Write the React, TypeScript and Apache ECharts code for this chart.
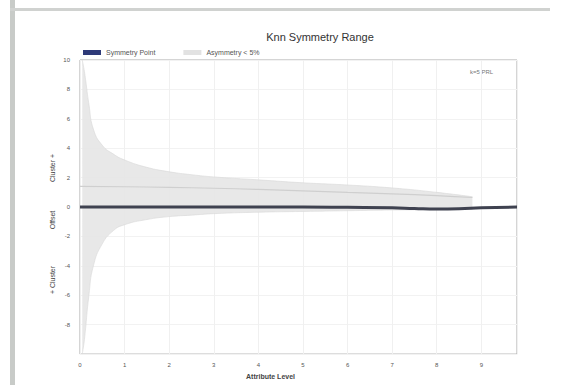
import React, { useEffect, useRef } from "react";
import * as echarts from "echarts";

const xTicks = [0, 1, 2, 3, 4, 5, 6, 7, 8, 9];
const yTicks = [10, 8, 6, 4, 2, 0, -2, -4, -6, -8];

const bandX = [0.05, 0.1, 0.2, 0.3, 0.5, 0.75, 1, 1.5, 2, 2.5, 3, 4, 5, 6, 7, 8, 8.8];
const bandUpper = [10, 9.2, 7.0, 5.3, 4.2, 3.6, 3.2, 2.7, 2.4, 2.2, 2.05, 1.85, 1.65, 1.5, 1.3, 1.0, 0.7];
const bandLower = [-10, -9.0, -6.0, -4.0, -2.5, -1.6, -1.2, -0.85, -0.65, -0.55, -0.45, -0.35, -0.3, -0.25, -0.2, -0.18, -0.15];

const midX = [0, 1, 2, 3, 4, 5, 6, 7, 8, 8.8];
const midY = [1.4, 1.38, 1.34, 1.28, 1.2, 1.1, 1.0, 0.9, 0.78, 0.65];

const symX = [0, 1, 2, 3, 4, 5, 6, 7, 7.5, 8, 8.5, 9, 9.8];
const symY = [0, 0, 0, 0, 0, 0, -0.02, -0.05, -0.1, -0.14, -0.12, -0.05, 0];

const zip = (xs: number[], ys: number[]) => xs.map((x, i) => [x, ys[i]]);

export default function App() {
  const ref = useRef<HTMLDivElement>(null);
  useEffect(() => {
    if (!ref.current) return;
    const chart = echarts.init(ref.current, undefined, { renderer: "svg" });
    const font = "Liberation Sans, Arial, sans-serif";
    chart.setOption({
      animation: false,
      textStyle: { fontFamily: font },
      title: {
        text: "Knn Symmetry Range",
        left: 315,
        top: 26,
        textAlign: "center",
        textStyle: { fontSize: 11, fontWeight: "normal", color: "#333" },
      },
      legend: {
        left: 78,
        top: 44,
        itemWidth: 18,
        itemHeight: 5,
        itemGap: 28,
        icon: "rect",
        textStyle: { fontSize: 7, color: "#555" },
        data: [
          { name: "Symmetry Point", itemStyle: { color: "#2e3a78" } },
          { name: "Asymmetry < 5%", itemStyle: { color: "#e2e2e2" } },
        ],
      },
      grid: {
        left: 80,
        right: 65,
        top: 60,
        bottom: 25,
        show: true,
        borderColor: "#aaa",
        borderWidth: 1,
      },
      xAxis: {
        type: "value",
        min: 0,
        max: 9.8,
        interval: 1,
        name: "Attribute Level",
        nameLocation: "middle",
        nameGap: 17,
        nameTextStyle: { fontSize: 7, color: "#444", fontWeight: "bold", padding: [0, 0, 0, -56] },
        axisLine: { show: false },
        axisTick: { show: false },
        axisLabel: {
          fontSize: 6,
          color: "#555",
          margin: 8,
          showMaxLabel: false,
          formatter: (v: number) => (xTicks.includes(v) ? String(v) : ""),
        },
        splitLine: { show: true, lineStyle: { color: "#f0f0f0" } },
      },
      yAxis: {
        type: "value",
        min: -10,
        max: 10,
        interval: 2,
        axisLine: { show: false },
        axisTick: { show: false },
        axisLabel: {
          fontSize: 6,
          color: "#555",
          margin: 10,
          formatter: (v: number) => (yTicks.includes(v) ? String(v) : ""),
        },
        splitLine: { show: true, lineStyle: { color: "#f2f2f2" } },
      },
      graphic: [
        { type: "rect", shape: { x: 10, y: 0, width: 5, height: 385 }, style: { fill: "#c8cbc8" } },
        { type: "rect", shape: { x: 10, y: 8, width: 540, height: 3 }, style: { fill: "#d0d2d0" } },
        { type: "text", x: 470, y: 69, style: { text: "k=5 PRL", fontSize: 6, fill: "#777", fontFamily: font } },
        { type: "text", x: 52, y: 168, rotation: Math.PI / 2, style: { text: "Cluster +", fontSize: 7, fill: "#444", fontFamily: font, align: "center", verticalAlign: "middle" } },
        { type: "text", x: 52, y: 220, rotation: Math.PI / 2, style: { text: "Offset", fontSize: 7, fill: "#444", fontFamily: font, align: "center", verticalAlign: "middle" } },
        { type: "text", x: 52, y: 280, rotation: Math.PI / 2, style: { text: "+ Cluster", fontSize: 7, fill: "#444", fontFamily: font, align: "center", verticalAlign: "middle" } },
      ],
      series: [
        {
          name: "Asymmetry < 5%",
          type: "line",
          data: zip(bandX, bandUpper),
          symbol: "none",
          smooth: true,
          lineStyle: { width: 0.6, color: "#d8d8d8" },
          itemStyle: { color: "#e2e2e2" },
          areaStyle: { color: "#e6e6e6", opacity: 0.9 },
          z: 1,
        },
        {
          name: "Asymmetry < 5%",
          type: "line",
          data: zip(bandX, bandLower),
          symbol: "none",
          smooth: true,
          lineStyle: { width: 0.6, color: "#d8d8d8" },
          itemStyle: { color: "#e2e2e2" },
          areaStyle: { color: "#e6e6e6", opacity: 0.9 },
          z: 1,
        },
        {
          name: "mid",
          type: "line",
          data: zip(midX, midY),
          symbol: "none",
          smooth: true,
          lineStyle: { width: 1.2, color: "#cfcfcf" },
          z: 2,
        },
        {
          name: "Symmetry Point",
          type: "line",
          data: zip(symX, symY),
          symbol: "none",
          smooth: true,
          lineStyle: { width: 3, color: "#3f4250" },
          itemStyle: { color: "#2e3a78" },
          z: 3,
        },
      ],
    });
    return () => chart.dispose();
  }, []);
  return <div ref={ref} style={{ width: 582, height: 385, position: "absolute", left: 0, top: 0 }} />;
}
